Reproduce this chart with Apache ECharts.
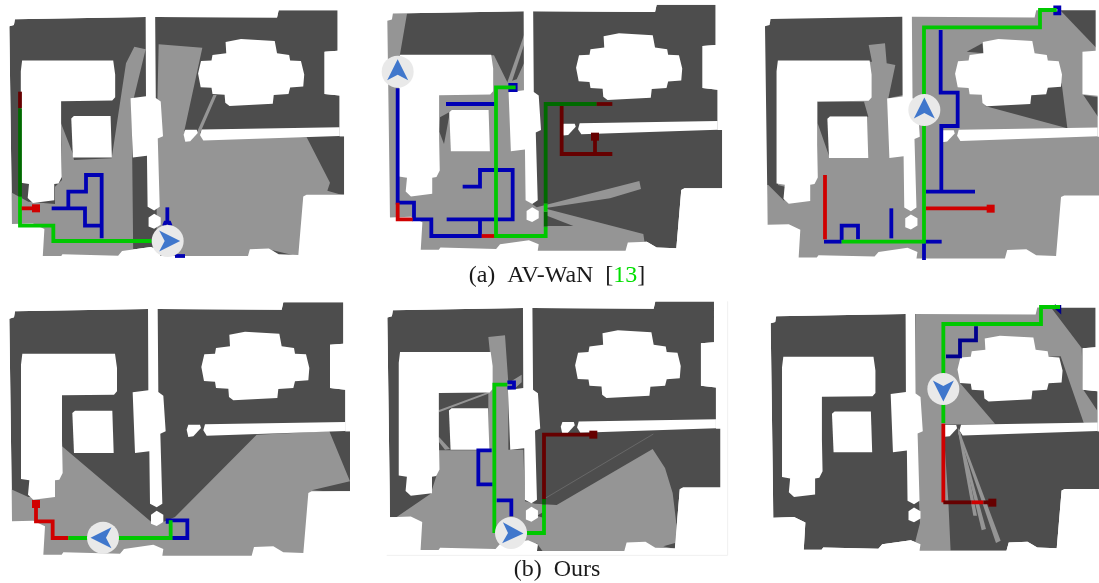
<!DOCTYPE html>
<html><head><meta charset="utf-8">
<style>html,body{margin:0;padding:0;background:#fff}#c{width:1099px;height:583px}</style>
<script src="https://cdn.jsdelivr.net/npm/echarts@6/dist/echarts.min.js"></script>
</head><body><div id="c"></div>
<script>
// Floor plan, traced once (3x zoom units), reused by all six panels
const planOutline=[[45,55],[445,48],[473,48],[845,50],[850,28],[1030,28],[1030,152],[990,155],[990,285],[1036,290],[1036,387],[1036,415],[1050,415],[1050,595],[935,595],[925,600],[910,780],[850,778],[820,760],[762,762],[755,788],[487,788],[490,768],[460,755],[372,768],[360,782],[190,778],[185,785],[130,785],[135,700],[100,683],[36,685],[35,590],[28,77],[42,73]];
const planHoles=[
[[444,40],[473,40],[475,297],[490,308],[497,415],[481,422],[487,632],[470,643],[450,632],[448,475],[405,480],[398,298],[445,292]],
[[67,182],[345,182],[351,225],[351,295],[342,305],[186,307],[186,440],[188,540],[178,560],[165,562],[165,612],[100,620],[84,605],[88,562],[63,558],[63,215]],
[[225,353],[337,353],[341,480],[222,480],[217,360]],
[[688,125],[735,116],[838,122],[845,160],[882,165],[885,182],[918,184],[928,225],[925,262],[885,265],[880,285],[835,288],[832,315],[700,322],[687,312],[685,287],[648,285],[645,266],[612,264],[604,222],[613,184],[645,182],[648,165],[690,160]],
[[565,395],[600,395],[603,405],[580,430],[565,432],[560,410]],
[[615,394],[1036,387],[1036,414],[620,428],[610,412]],
[[453,665],[470,653],[490,665],[490,687],[470,699],[453,692]]
];
// Per-panel visible areas (light), re-darkened areas
const light1=[[[476,133],[607,143],[553,392],[590,398],[640,285],[650,285],[600,400],[920,412],[990,548],[982,572],[1045,590],[1045,790],[470,790],[470,400]],
[[30,575],[85,605],[165,612],[165,560],[186,540],[183,370],[218,460],[222,480],[335,475],[378,190],[403,140],[437,148],[395,320],[400,790],[30,790]]];
const dark1=[[[815,750],[890,768],[840,768]]];
const light2=[[[45,30],[112,35],[88,175],[88,600],[45,600]],
[[45,166],[372,166],[412,247],[440,238],[462,190],[470,600],[500,622],[808,543],[813,567],[720,595],[522,625],[820,702],[830,770],[45,770]],
[[412,247],[462,105],[462,135],[425,247]]];
const dark2=[[[525,645],[610,678],[528,678]],[[210,352],[240,335],[222,432],[208,395]]];
const light3=[[[50,20],[1090,20],[1090,790],[50,790]]];
const dark3=[[[60,30],[490,30],[490,285],[445,295],[466,195],[440,190],[435,130],[386,135],[396,185],[114,183],[114,555],[135,560],[133,603],[85,555],[60,555]],
[[233,305],[372,305],[385,350],[268,350],[268,470],[233,370]],
[[960,30],[1075,30],[1075,150]],[[680,155],[727,130],[730,160]],
[[735,318],[965,250],[982,385]],[[1030,285],[1075,292],[1075,352]]];
const light4=[[[30,587],[85,612],[165,612],[165,560],[186,540],[186,460],[455,688],[470,695],[525,672],[770,425],[988,415],[1050,565],[935,592],[1060,600],[1060,800],[30,800]]];
const dark4=[];
const light5=[[[80,672],[182,602],[205,530],[205,472],[355,472],[355,300],[360,180],[355,132],[405,127],[415,270],[455,245],[455,268],[430,290],[415,300],[415,470],[460,470],[465,625],[495,632],[560,636],[848,468],[885,525],[908,600],[920,700],[915,775],[150,775],[50,680]],
[[205,352],[360,295],[361,300],[207,358]],[[205,430],[240,468],[225,470],[205,445]]];
const dark5=[[[500,750],[518,775],[495,775]],[[525,655],[500,668],[522,675]],[[880,760],[915,750],[915,768]]];
const light6=[[[526,40],[930,40],[1025,165],[1030,290],[1078,362],[1078,392],[1032,392],[962,190],[700,200],[660,270],[765,392],[610,395],[625,625],[632,778],[540,778],[526,745],[540,690],[526,400]],
[[655,420],[662,420],[711,668],[700,668]],[[655,405],[738,708],[725,712],[655,420]],[[655,405],[782,743],[768,750],[655,420]]];
const dark6=[];
// Robot paths per panel (colour key, polyline)
const paths1=[['blue',[[155,625],[255,625],[255,677],[305,677]]],['blue',[[205,625],[205,575],[258,575],[258,525],[305,525],[305,715]]],['blue',[[502,622],[502,672]]],['blue',[[492,678],[496,668],[508,668],[512,678]]],['blue',[[525,768],[555,768]]],
['maroon',[[60,275],[60,325]]],['forest',[[60,325],[60,590]]],['green',[[60,590],[60,677],[160,677],[160,723],[455,723]]],['red',[[65,625],[105,625]]]];
const paths2=[['blue',[[83,265],[83,608],[132,608],[132,658],[184,658],[184,708],[330,708],[330,658]]],['blue',[[230,658],[428,658],[428,510],[330,510],[330,560],[278,560]]],['blue',[[228,312],[375,312]]],['blue',[[415,255],[437,255],[437,270],[415,270]]],
['red',[[83,608],[83,658],[128,658]]],['red',[[335,708],[375,708]]],
['green',[[437,262],[378,262],[378,708],[527,708],[527,680]]],['forest',[[527,680],[527,635]]],['green',[[527,635],[527,610]]],['forest',[[527,610],[527,312],[680,312]]],
['maroon',[[680,312],[727,312]]],['maroon',[[575,318],[575,462],[727,462]]],['maroon',[[675,462],[675,415]]]];
const paths3=[['blue',[[602,90],[602,278],[653,278],[653,378],[604,378],[604,575]]],['blue',[[558,575],[705,575]]],['blue',[[940,22],[958,22],[958,40],[940,40]]],['blue',[[454,625],[454,715]]],['blue',[[252,725],[305,725]]],['blue',[[305,720],[305,677],[354,677],[354,718]]],['blue',[[552,725],[605,725]]],['blue',[[552,730],[552,780]]],
['red',[[255,525],[255,718]]],['red',[[558,625],[745,625]]],
['green',[[950,30],[900,30],[900,82],[552,82],[552,725],[305,725]]]];
const paths4=[['blue',[[515,735],[562,735],[562,682],[503,682],[503,692]]],['red',[[108,640],[108,685],[158,685],[158,735],[205,735]]],['green',[[205,735],[512,735],[512,682]]]];
const paths5=[['blue',[[412,268],[432,268],[432,284],[412,284]]],['blue',[[365,472],[325,472],[325,574],[368,574]]],['blue',[[380,622],[424,622],[424,670]]],
['green',[[412,275],[373,275],[373,720]]],['green',[[470,720],[522,720],[522,635]]],['forest',[[522,635],[522,618]]],['maroon',[[522,618],[522,425],[670,425]]]];
const paths6=[['navy',[[708,100],[708,142],[660,142],[660,190],[618,190]]],['navy',[[942,38],[958,52],[958,36]]],['green',[[960,42],[903,42],[903,93],[610,93],[610,390]]],['red',[[610,392],[610,628]]],['maroon',[[610,628],[695,628]]],['red',[[695,628],[730,628]]],['maroon',[[730,628],[757,628]]]];
// Goals: panel, x, y, colour key
const goals=[[0,108,625,'red'],[1,675,410,'maroon'],[2,752,626,'red'],[3,108,633,'red'],[4,670,425,'maroon'],[5,757,629,'maroon']];
// Agents: panel, x, y, heading degrees (0 east, clockwise on screen)
const agents=[[0,503,723,0],[1,83,215,-90],[2,553,330,-90],[3,309,734,180],[4,423,720,2],[5,610,288,90]];
const captionA=['(a)  AV-WaN  [','13',']'];
const captionB='(b)  Ours';

// Layout
const origins=[[0,0],[370,0],[740,0],[0,293],[370,293],[740,293]];
const fit=[[28,.983,117,.976],[52,.983,100,.971],[75,.99,117,.98],[28,1,116,1],[52,.978,112,.985],[92,.973,128,.96]];
const frames=[[0,372,0,290],[372,740,0,290],[740,1099,0,290],[0,372,293,583],[372,740,293,583],[740,1099,293,583]];
const crops=[[0,372,256,290],[740,1099,260,290]];
const COLORS={dark:'#4d4d4d',light:'#959595',white:'#ffffff',red:'#d00000',maroon:'#660000',forest:'#006a00',green:'#00c800',blue:'#0000b4',navy:'#00008c'};
const lightSets=[light1,light2,light3,light4,light5,light6], darkSets=[dark1,dark2,dark3,dark4,dark5,dark6], pathSets=[paths1,paths2,paths3,paths4,paths5,paths6];

const toAbs=(p,pts)=>pts.map(q=>[origins[p][0]+q[0]/3,origins[p][1]+q[1]/3]);
const fromPlan=(p,pts)=>toAbs(p,pts.map(q=>[fit[p][0]+(q[0]-28)*fit[p][1],fit[p][2]+(q[1]-116)*fit[p][3]]));
const area=pts=>pts.reduce((s,q,i)=>{const r=pts[(i+1)%pts.length];return s+q[0]*r[1]-r[0]*q[1];},0);

const shapes=[];
origins.forEach((o,p)=>{
  const outline=fromPlan(p,planOutline);
  shapes.push({pts:outline,c:COLORS.dark});
  lightSets[p].forEach(s=>shapes.push({pts:toAbs(p,s),c:COLORS.light}));
  darkSets[p].forEach(s=>shapes.push({pts:toAbs(p,s),c:COLORS.dark}));
  planHoles.forEach(h=>shapes.push({pts:fromPlan(p,h),c:COLORS.white}));
  const f=frames[p], rect=[[f[0],f[2]],[f[1],f[2]],[f[1],f[3]],[f[0],f[3]]];
  const ring=area(outline)>0?outline.slice().reverse():outline.slice();
  shapes.push({pts:rect.concat([rect[0]],ring,[ring[0]],[rect[0]]),c:COLORS.white});
});
crops.forEach(f=>shapes.push({pts:[[f[0],f[2]],[f[1],f[2]],[f[1],f[3]],[f[0],f[3]]],c:COLORS.white}));

const polygonSeries={type:'custom',coordinateSystem:'cartesian2d',silent:true,z:1,clip:false,
  data:shapes.map((s,i)=>[i]),
  renderItem(params,api){const s=shapes[api.value(0)];
    return {type:'polygon',shape:{points:s.pts.map(q=>api.coord(q))},style:{fill:s.c}};}};

const lineSeries=[];
pathSets.forEach((set,p)=>set.forEach(([key,pts])=>lineSeries.push({type:'line',z:3,silent:true,symbol:'none',clip:false,
  data:toAbs(p,pts),lineStyle:{color:COLORS[key],width:3.8,cap:'butt',join:'miter'}})));
lineSeries.push({type:'line',z:2,silent:true,symbol:'none',clip:false,data:toAbs(4,[[50,787],[1073,787],[1073,25]]),lineStyle:{color:'#f0f0f0',width:1}});
lineSeries.push({type:'line',z:2,silent:true,symbol:'none',clip:false,data:toAbs(4,[[522,618],[850,423]]),lineStyle:{color:'#6e6e6e',width:.8}});

const goalSeries={type:'custom',coordinateSystem:'cartesian2d',silent:true,z:4,clip:false,
  data:goals.map(g=>{const a=toAbs(g[0],[[g[1],g[2]]])[0];return [a[0],a[1],g[3]];}),
  renderItem(params,api){const c=api.coord([api.value(0),api.value(1)]);
    return {type:'rect',shape:{x:c[0]-4,y:c[1]-4,width:8,height:8},style:{fill:COLORS[goals[params.dataIndex][3]]}};}};

const ARROW=[[12.5,0],[-8.5,-10.5],[-3,0],[-8.5,10.5]];
const agentSeries={type:'custom',coordinateSystem:'cartesian2d',silent:true,z:5,clip:false,
  data:agents.map(g=>{const a=toAbs(g[0],[[g[1],g[2]]])[0];return [a[0],a[1],g[3]];}),
  renderItem(params,api){const c=api.coord([api.value(0),api.value(1)]),t=api.value(2)*Math.PI/180;
    const pts=ARROW.map(q=>[c[0]+q[0]*Math.cos(t)-q[1]*Math.sin(t),c[1]+q[0]*Math.sin(t)+q[1]*Math.cos(t)]);
    return {type:'group',children:[{type:'circle',shape:{cx:c[0],cy:c[1],r:16},style:{fill:'#e9e9e9'}},{type:'polygon',shape:{points:pts},style:{fill:'#4077cc'}}]};}};

const FONT='"Liberation Serif","Times New Roman",serif';
const chart=echarts.init(document.getElementById('c'),null,{renderer:'canvas'});
chart.setOption({animation:false,backgroundColor:'#fff',
  grid:{left:0,right:0,top:0,bottom:0},
  xAxis:{type:'value',min:0,max:1099,show:false},
  yAxis:{type:'value',min:0,max:583,inverse:true,show:false},
  title:[
   {text:'{a|'+captionA[0]+'}{g|'+captionA[1]+'}{a|'+captionA[2]+'}',left:557,top:264,textAlign:'center',padding:0,z:9,
    textStyle:{fontWeight:'normal',rich:{a:{fontFamily:FONT,fontSize:24,fontWeight:'normal',color:'#1a1a1a'},g:{fontFamily:FONT,fontSize:24,fontWeight:'normal',color:'#00e000'}}}},
   {text:captionB,left:557,top:558,textAlign:'center',padding:0,z:9,textStyle:{fontFamily:FONT,fontSize:24,fontWeight:'normal',color:'#1a1a1a'}}
  ],
  series:[polygonSeries,...lineSeries,goalSeries,agentSeries]});
</script></body></html>
